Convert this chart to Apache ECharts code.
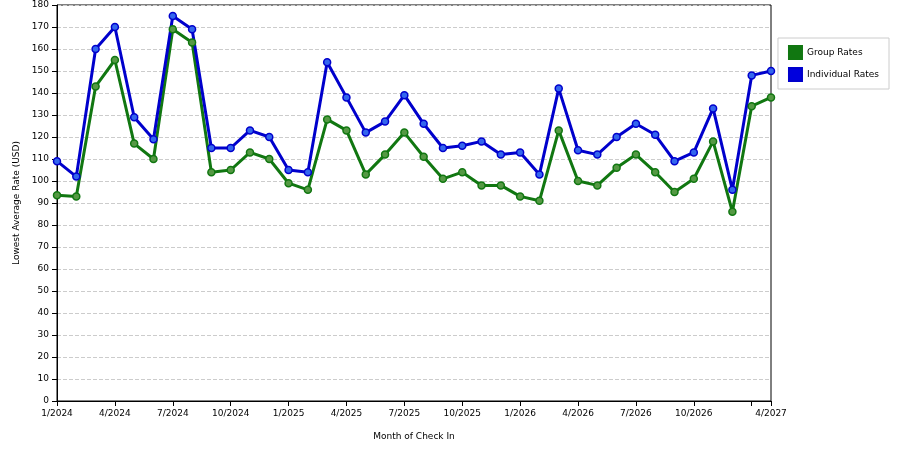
<!DOCTYPE html>
<html><head><meta charset="utf-8">
<script src="https://cdn.jsdelivr.net/npm/echarts@6/dist/echarts.min.js"></script>
<style>html,body{margin:0;padding:0;background:#fff}#c{width:900px;height:450px}</style>
</head><body><div id="c"></div>
<script>
const categories = ["1/2024","2/2024","3/2024","4/2024","5/2024","6/2024","7/2024","8/2024","9/2024","10/2024","11/2024","12/2024","1/2025","2/2025","3/2025","4/2025","5/2025","6/2025","7/2025","8/2025","9/2025","10/2025","11/2025","12/2025","1/2026","2/2026","3/2026","4/2026","5/2026","6/2026","7/2026","8/2026","9/2026","10/2026","11/2026","12/2026","1/2027","4/2027"];
const groupRates = [93.5,93,143,155,117,110,169,163,104,105,113,110,99,96,128,123,103,112,122,111,101,104,98,98,93,91,123,100,98,106,112,104,95,101,118,86,134,138];
const individualRates = [109,102,160,170,129,119,175,169,115,115,123,120,105,104,154,138,122,127,139,126,115,116,118,112,113,103,142,114,112,120,126,121,109,113,133,96,148,150];
const showLabel = i => (i % 3 === 0 && i < 36) || i === 37;
const chart = echarts.init(document.getElementById('c'));
const ser = (name, data, color, sym) => ({
  name, type: 'line', data, symbol: 'circle', symbolSize: 7,
  lineStyle: {color, width: 3}, itemStyle: {color: sym, borderColor: color, borderWidth: 1.5},
  emphasis: {disabled: true}
});
chart.setOption({
  animation: false,
  textStyle: {fontFamily: 'DejaVu Sans'},
  grid: {left: 57, right: 129, top: 5, bottom: 49},
  legend: {
    orient: 'vertical', right: 11, top: 38, itemWidth: 13, itemHeight: 13, itemGap: 7,
    padding: [7, 10, 7, 10], borderColor: '#ccc', borderWidth: 1,
    icon: 'rect', textStyle: {fontSize: 9, color: '#000'},
    data: [{name: 'Group Rates', itemStyle: {color: '#117711'}}, {name: 'Individual Rates', itemStyle: {color: '#0000dd'}}]
  },
  xAxis: {
    type: 'category', data: categories, boundaryGap: false,
    name: 'Month of Check In', nameLocation: 'middle', nameGap: 31,
    nameTextStyle: {fontSize: 9, color: '#000'},
    axisLine: {lineStyle: {color: '#000'}},
    axisTick: {interval: (i) => i % 3 === 0 || i === 37, lineStyle: {color: '#000'}},
    axisLabel: {interval: (i) => showLabel(i), fontSize: 9, color: '#000'}
  },
  yAxis: {
    type: 'value', min: 0, max: 180, interval: 10,
    name: 'Lowest Average Rate (USD)', nameLocation: 'middle', nameGap: 36,
    nameTextStyle: {fontSize: 9, color: '#000'},
    axisLine: {show: true, lineStyle: {color: '#000'}},
    axisTick: {show: true, lineStyle: {color: '#000'}},
    axisLabel: {fontSize: 9, color: '#000'},
    splitLine: {lineStyle: {type: 'dashed', color: '#ccc'}}
  },
  series: [
    ser('Group Rates', groupRates, '#117711', '#559944'),
    ser('Individual Rates', individualRates, '#0000cc', '#3366ee')
  ]
});
// top & right border
chart.setOption({graphic: [{type: 'rect', shape: {x: 57, y: 5, width: 714, height: 396}, style: {fill: 'none', stroke: '#000', lineWidth: 1}, silent: true, z: -1}]});
</script></body></html>
